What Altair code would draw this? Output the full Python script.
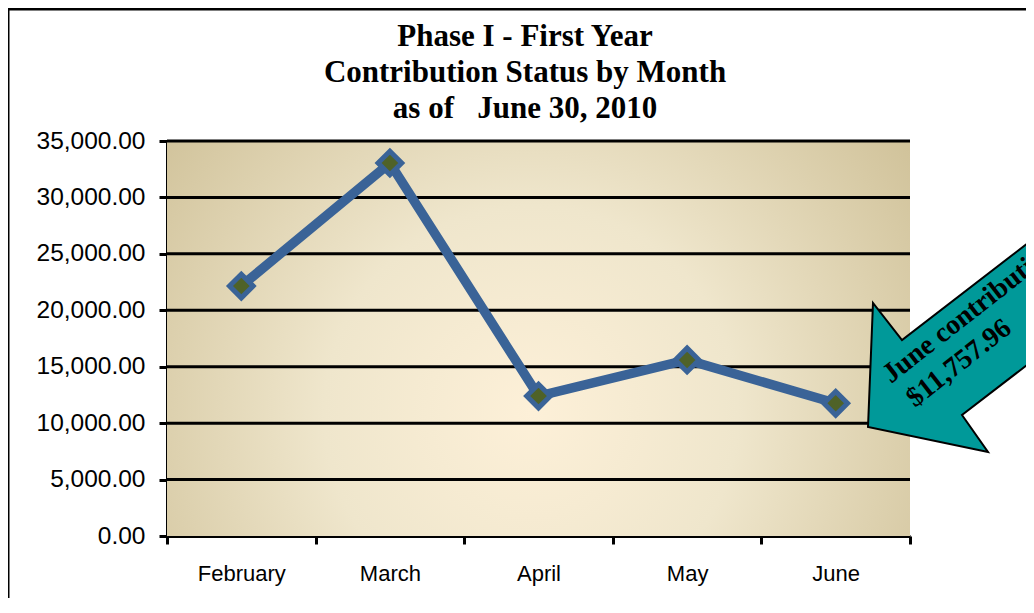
import altair as alt
import pandas as pd

months = ["February", "March", "April", "May", "June"]
contributions = [22150, 33050, 12400, 15600, 11757.96]
y_ticks = [0, 5000, 10000, 15000, 20000, 25000, 30000, 35000]
title_lines = ["Phase I - First Year", "Contribution Status by Month", "as of \u00a0 June 30, 2010"]
callout_lines = ["June contribution", "$11,757.96"]

W, H = 743, 395

df = pd.DataFrame({"month": months, "value": contributions})
grid_df = pd.DataFrame({"value": y_ticks[1:]})
one = pd.DataFrame({"k": [0]})

x_enc = alt.X(
    "month:N", sort=months,
    scale=alt.Scale(type="band", paddingInner=0, paddingOuter=0),
    axis=alt.Axis(title=None, tickBand="extent", labelFont="Liberation Sans", labelFontSize=22,
                  labelColor="black", labelPadding=19, tickColor="black", tickWidth=3, tickSize=8,
                  domainColor="black", domainWidth=3, labelAngle=0, grid=False),
)
y_enc = alt.Y(
    "value:Q",
    scale=alt.Scale(domain=[0, 35000], nice=False),
    axis=alt.Axis(title=None, values=y_ticks, format=",.2f", labelFont="Liberation Sans",
                  labelFontSize=24.5, labelColor="black", labelPadding=14, tickColor="black",
                  tickWidth=3, tickSize=8, domainColor="black", domainWidth=3, grid=False),
)

gradient = alt.RadialGradient(
    gradient="radial",
    stops=[
        alt.GradientStop(color="#fdf0d8", offset=0),
        alt.GradientStop(color="#efe6cc", offset=0.45),
        alt.GradientStop(color="#d1c39b", offset=1),
    ],
    x1=0.49, y1=0.6, x2=0.49, y2=0.6, r1=0, r2=0.62,
)

bg = alt.Chart(one).mark_rect(fill=gradient).encode(
    x=alt.value(0), x2=alt.value(W), y=alt.value(0), y2=alt.value(H)
)

grid = alt.Chart(grid_df).mark_rule(color="black", strokeWidth=3).encode(
    y=y_enc, x=alt.value(0), x2=alt.value(W)
)

line = alt.Chart(df).mark_line(color="#3a6397", strokeWidth=9.5).encode(x=x_enc, y=y_enc)

pts = alt.Chart(df).mark_point(
    shape="diamond", filled=True, fill="#4f6228", stroke="#3a6397", strokeWidth=5,
    size=560, opacity=1
).encode(x=x_enc, y=y_enc)

border_left = alt.Chart(one).mark_rule(color="black", strokeWidth=3).encode(
    x=alt.value(-159), y=alt.value(-133), y2=alt.value(H + 80)
)
border_top = alt.Chart(one).mark_rule(color="black", strokeWidth=3).encode(
    y=alt.value(-132), x=alt.value(-159), x2=alt.value(W + 140)
)

arrow_path = "M -0.82 0.77 L -0.77 -0.47 L -0.48 -0.10 L 1.50 -1.625 L 2.10 -0.875 L 0.12 0.65 L 0.38 1.02 Z"
arrow = alt.Chart(one).mark_point(
    shape=arrow_path, filled=True, fill="#009999", stroke="black", strokeWidth=2,
    size=40000, opacity=1
).encode(x=alt.value(783), y=alt.value(209))

txt1 = alt.Chart(one).mark_text(
    text=callout_lines[0], font="Liberation Serif", fontSize=28, fontWeight="bold",
    angle=322, align="left", baseline="alphabetic", color="black"
).encode(x=alt.value(724), y=alt.value(243))
txt2 = alt.Chart(one).mark_text(
    text=callout_lines[1], font="Liberation Serif", fontSize=28, fontWeight="bold",
    angle=322, align="left", baseline="alphabetic", color="black"
).encode(x=alt.value(748), y=alt.value(267))

title_layers = [
    alt.Chart(one).mark_text(
        text=t, font="Liberation Serif", fontSize=31, fontWeight="bold",
        align="center", baseline="alphabetic", color="black"
    ).encode(x=alt.value(358), y=alt.value(yy))
    for t, yy in zip(title_lines, [-95, -59, -23])
]

chart = alt.layer(bg, grid, line, pts, arrow, txt1, txt2, border_left, border_top, *title_layers).properties(
    width=W, height=H,
    autosize=alt.AutoSizeParams(type="none"),
    padding={"left": 159, "top": 133, "right": 116, "bottom": 62},
    background="white",
).configure_view(stroke=None)

chart.save("out.html", embed_options={"renderer": "svg", "actions": False})
